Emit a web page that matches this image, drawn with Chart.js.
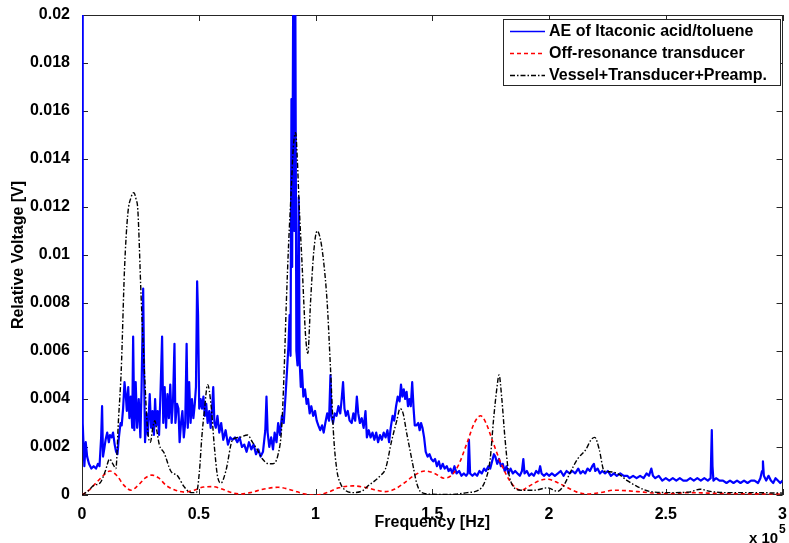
<!DOCTYPE html>
<html>
<head>
<meta charset="utf-8">
<script src="https://cdn.jsdelivr.net/npm/chart.js@4.4.1/dist/chart.umd.min.js"></script>
<style>
  html, body { margin: 0; padding: 0; background: #fff; }
  #c { display: block; }
</style>
</head>
<body>
<canvas id="c" width="789" height="543"></canvas>
<script>
// Frequency in units of 1e5 Hz, relative voltage in V.
const xTickValues = [0, 0.5, 1, 1.5, 2, 2.5, 3];
const yTickValues = [0, 0.002, 0.004, 0.006, 0.008, 0.01, 0.012, 0.014, 0.016, 0.018, 0.02];

const seriesLabels = ['AE of Itaconic acid/toluene', 'Off-resonance transducer', 'Vessel+Transducer+Preamp.'];

// Acoustic emission spectrum of itaconic acid / toluene
const aeSignal = [
  [0.000,0.025],[0.002,0.013],[0.004,0.0030],[0.010,0.0012],[0.016,0.0022],[0.022,0.0016],[0.030,0.0013],
  [0.040,0.0011],[0.050,0.0012],[0.060,0.0011],[0.068,0.0013],[0.075,0.0012],[0.082,0.0024],[0.086,0.0037],
  [0.090,0.0016],[0.095,0.0019],[0.101,0.0023],[0.108,0.0026],[0.115,0.0022],[0.120,0.0025],[0.127,0.0024],
  [0.133,0.0026],[0.140,0.0021],[0.146,0.0018],[0.152,0.0017],[0.158,0.0024],[0.165,0.0030],[0.170,0.0029],
  [0.176,0.0036],[0.182,0.0047],[0.188,0.0041],[0.192,0.0035],[0.198,0.0045],[0.203,0.0032],[0.209,0.0041],
  [0.215,0.0028],[0.219,0.0066],[0.224,0.0027],[0.230,0.0047],[0.236,0.0028],[0.243,0.0040],[0.250,0.0024],
  [0.255,0.0044],[0.262,0.0086],[0.266,0.0050],[0.270,0.0022],[0.276,0.0034],[0.282,0.0025],[0.290,0.0042],
  [0.296,0.0028],[0.302,0.0035],[0.308,0.0025],[0.313,0.0040],[0.318,0.0029],[0.324,0.0035],[0.330,0.0025],
  [0.336,0.0042],[0.343,0.0066],[0.348,0.0030],[0.354,0.0045],[0.360,0.0028],[0.366,0.0042],[0.372,0.0032],
  [0.378,0.0046],[0.384,0.0030],[0.390,0.0040],[0.396,0.0063],[0.400,0.0030],[0.407,0.0038],[0.413,0.0036],
  [0.418,0.0022],[0.424,0.0030],[0.430,0.0035],[0.436,0.0024],[0.442,0.0030],[0.448,0.0063],[0.453,0.0028],
  [0.459,0.0047],[0.465,0.0030],[0.471,0.0040],[0.477,0.0032],[0.483,0.0038],[0.488,0.0045],[0.493,0.0089],
  [0.497,0.0075],[0.502,0.0036],[0.508,0.0040],[0.514,0.0036],[0.520,0.0041],[0.526,0.0033],[0.532,0.0038],
  [0.538,0.0030],[0.545,0.0035],[0.551,0.0028],[0.557,0.0036],[0.562,0.0045],[0.567,0.0030],[0.573,0.0028],
  [0.580,0.0033],[0.588,0.0026],[0.596,0.0030],[0.605,0.0023],[0.615,0.0027],[0.625,0.0021],[0.635,0.0024],
  [0.645,0.0023],[0.655,0.0024],[0.665,0.0022],[0.675,0.0024],[0.685,0.0020],[0.695,0.0021],[0.705,0.0018],
  [0.715,0.0022],[0.725,0.0019],[0.735,0.0021],[0.745,0.0017],[0.755,0.0019],[0.765,0.0016],[0.775,0.0018],
  [0.785,0.0027],[0.790,0.0041],[0.795,0.0026],[0.802,0.0020],[0.810,0.0024],[0.818,0.0019],[0.825,0.0026],
  [0.833,0.0022],[0.840,0.0030],[0.848,0.0025],[0.856,0.0033],[0.864,0.0030],[0.872,0.0042],[0.878,0.0052],
  [0.884,0.0062],[0.889,0.0075],[0.893,0.0058],[0.897,0.0165],[0.900,0.0095],[0.905,0.0225],[0.909,0.0110],
  [0.913,0.0225],[0.918,0.0060],[0.923,0.0054],[0.928,0.0124],[0.932,0.0056],[0.937,0.0045],[0.942,0.0052],
  [0.948,0.0041],[0.955,0.0044],[0.962,0.0038],[0.968,0.0040],[0.975,0.0034],[0.982,0.0037],[0.990,0.0033],
  [0.998,0.0035],[1.005,0.0031],[1.012,0.0029],[1.020,0.0027],[1.028,0.0029],[1.035,0.0026],[1.042,0.0030],
  [1.050,0.0034],[1.058,0.0031],[1.064,0.0050],[1.068,0.0033],[1.075,0.0030],[1.082,0.0034],[1.090,0.0033],
  [1.098,0.0037],[1.106,0.0034],[1.112,0.0040],[1.118,0.0047],[1.124,0.0036],[1.130,0.0033],[1.138,0.0035],
  [1.146,0.0031],[1.155,0.0030],[1.162,0.0034],[1.170,0.0031],[1.177,0.0041],[1.183,0.0034],[1.190,0.0030],
  [1.198,0.0032],[1.206,0.0028],[1.214,0.0035],[1.220,0.0024],[1.228,0.0027],[1.236,0.0024],[1.244,0.0026],
  [1.252,0.0023],[1.260,0.0026],[1.268,0.0022],[1.276,0.0025],[1.284,0.0023],[1.292,0.0026],[1.300,0.0024],
  [1.308,0.0027],[1.315,0.0022],[1.322,0.0028],[1.330,0.0033],[1.337,0.0031],[1.345,0.0037],[1.352,0.0041],
  [1.360,0.0039],[1.366,0.0046],[1.372,0.0041],[1.378,0.0044],[1.384,0.0040],[1.390,0.0043],[1.396,0.0037],
  [1.402,0.0040],[1.408,0.0037],[1.414,0.0047],[1.420,0.0036],[1.425,0.0029],[1.432,0.0029],[1.440,0.0030],
  [1.446,0.0027],[1.452,0.0030],[1.458,0.0028],[1.465,0.0024],[1.472,0.0018],[1.480,0.0016],[1.488,0.0017],
  [1.496,0.0015],[1.504,0.0014],[1.512,0.0015],[1.520,0.0012],[1.528,0.0014],[1.536,0.0011],[1.545,0.0013],
  [1.553,0.0011],[1.562,0.0012],[1.570,0.0010],[1.578,0.0011],[1.586,0.0009],[1.595,0.0012],[1.604,0.0009],
  [1.615,0.0010],[1.625,0.0008],[1.635,0.0009],[1.645,0.0008],[1.652,0.0009],[1.657,0.0023],[1.662,0.0009],
  [1.672,0.0008],[1.682,0.0009],[1.692,0.0008],[1.702,0.0010],[1.712,0.0009],[1.722,0.0011],[1.730,0.0010],
  [1.740,0.0012],[1.748,0.0011],[1.756,0.0014],[1.764,0.0017],[1.770,0.0016],[1.778,0.0013],[1.786,0.0015],
  [1.794,0.0012],[1.802,0.0013],[1.810,0.0010],[1.818,0.0012],[1.826,0.0009],[1.835,0.0011],[1.845,0.0009],
  [1.855,0.0010],[1.865,0.0009],[1.875,0.0008],[1.884,0.0010],[1.890,0.0015],[1.895,0.0009],[1.905,0.0010],
  [1.915,0.0008],[1.925,0.0009],[1.935,0.0008],[1.945,0.0010],[1.955,0.0009],[1.962,0.0012],[1.968,0.0009],
  [1.978,0.0008],[1.990,0.0009],[2.000,0.0008],[2.012,0.0009],[2.025,0.0008],[2.038,0.0009],[2.050,0.0010],
  [2.062,0.0008],[2.075,0.0010],[2.088,0.0009],[2.100,0.0010],[2.112,0.0009],[2.125,0.0011],[2.135,0.0009],
  [2.145,0.0010],[2.155,0.0009],[2.165,0.0011],[2.175,0.0010],[2.185,0.0012],[2.192,0.0013],[2.198,0.0010],
  [2.208,0.0011],[2.218,0.0009],[2.228,0.0010],[2.240,0.0009],[2.252,0.0010],[2.265,0.0008],[2.278,0.0009],
  [2.290,0.0008],[2.305,0.0009],[2.320,0.0008],[2.335,0.0008],[2.345,0.0007],[2.360,0.0008],[2.375,0.0007],
  [2.390,0.0008],[2.405,0.0007],[2.418,0.0009],[2.428,0.0008],[2.438,0.0011],[2.445,0.0008],[2.455,0.0007],
  [2.470,0.0008],[2.485,0.0006],[2.500,0.0007],[2.515,0.0006],[2.530,0.0007],[2.545,0.0006],[2.560,0.0007],
  [2.575,0.0006],[2.590,0.0006],[2.605,0.0007],[2.620,0.0006],[2.635,0.0007],[2.650,0.0006],[2.665,0.0007],
  [2.680,0.0006],[2.692,0.0007],[2.697,0.0027],[2.700,0.0012],[2.704,0.0006],[2.715,0.0007],[2.730,0.0006],
  [2.745,0.0006],[2.760,0.0005],[2.775,0.0006],[2.790,0.0005],[2.805,0.0006],[2.820,0.0005],[2.835,0.0006],
  [2.850,0.0005],[2.865,0.0006],[2.880,0.0006],[2.895,0.0005],[2.905,0.0007],[2.912,0.0010],[2.916,0.0014],
  [2.920,0.0008],[2.930,0.0006],[2.940,0.0008],[2.950,0.0006],[2.960,0.0005],[2.970,0.0007],[2.980,0.0006],
  [2.990,0.0005],[3.000,0.0006]
];

// Off-resonance transducer response
const offResonance = [
  [0.00,0.0000],[0.03,0.0002],[0.06,0.0005],[0.09,0.0008],[0.12,0.0010],[0.15,0.0008],[0.18,0.0004],
  [0.21,0.0002],[0.24,0.0004],[0.27,0.0007],[0.30,0.00083],[0.33,0.0007],[0.36,0.0004],[0.40,0.0002],
  [0.44,0.00012],[0.48,0.0002],[0.52,0.00033],[0.56,0.00035],[0.60,0.00025],[0.64,0.0001],[0.68,0.00004],
  [0.72,0.0001],[0.78,0.00025],[0.84,0.00032],[0.90,0.0002],[0.95,0.00005],[1.00,0.0000],[1.05,0.0001],
  [1.10,0.0003],[1.16,0.00038],[1.22,0.0003],[1.26,0.0002],[1.30,0.00014],[1.34,0.00025],[1.38,0.0005],
  [1.42,0.0008],[1.47,0.0010],[1.51,0.0009],[1.55,0.0007],[1.58,0.0008],[1.61,0.0012],[1.65,0.0022],
  [1.68,0.0030],[1.707,0.0033],[1.73,0.0030],[1.76,0.0022],[1.795,0.0013],[1.838,0.0005],[1.88,0.0002],
  [1.92,0.0004],[1.96,0.0006],[1.994,0.00066],[2.04,0.0005],[2.08,0.0003],[2.12,0.00012],[2.165,0.00004],
  [2.22,0.0001],[2.278,0.0002],[2.33,0.00018],[2.38,0.00014],[2.45,0.00008],[2.52,0.00006],[2.60,0.0001],
  [2.68,0.00008],[2.76,0.00006],[2.85,0.00005],[3.00,0.00004]
];

// Vessel + transducer + preamplifier response
const vesselChain = [
  [0.00,0.0000],[0.03,0.0002],[0.05,0.0004],[0.077,0.0005],[0.10,0.0010],[0.118,0.0015],[0.132,0.0013],
  [0.145,0.0011],[0.156,0.0031],[0.168,0.0052],[0.182,0.0094],[0.196,0.0117],[0.210,0.0124],[0.222,0.0126],
  [0.232,0.0123],[0.239,0.0119],[0.253,0.0083],[0.267,0.0052],[0.281,0.0027],[0.293,0.0022],[0.303,0.0028],
  [0.312,0.0031],[0.320,0.0027],[0.331,0.0021],[0.352,0.00175],[0.380,0.0010],[0.409,0.0008],[0.437,0.00035],
  [0.466,0.0001],[0.490,0.0001],[0.503,0.0010],[0.513,0.0024],[0.524,0.0035],[0.538,0.0046],[0.552,0.0038],
  [0.567,0.0020],[0.580,0.0008],[0.595,0.0005],[0.616,0.0010],[0.645,0.0023],[0.673,0.0024],[0.709,0.0025],
  [0.730,0.0022],[0.750,0.0019],[0.773,0.0015],[0.800,0.0013],[0.815,0.0013],[0.840,0.0017],[0.855,0.0028],
  [0.865,0.0050],[0.875,0.0080],[0.885,0.0105],[0.895,0.0125],[0.905,0.0145],[0.915,0.0151],[0.922,0.0140],
  [0.929,0.0123],[0.943,0.0095],[0.957,0.0067],[0.967,0.0059],[0.979,0.0081],[0.993,0.0102],[1.007,0.0110],
  [1.020,0.0107],[1.035,0.0097],[1.050,0.0080],[1.064,0.0053],[1.078,0.0024],[1.092,0.0010],[1.106,0.0005],
  [1.127,0.0002],[1.156,0.0001],[1.200,0.00017],[1.227,0.0004],[1.255,0.0006],[1.277,0.0008],[1.300,0.0011],
  [1.327,0.0023],[1.348,0.0031],[1.362,0.0036],[1.375,0.0034],[1.390,0.0026],[1.404,0.0019],[1.418,0.0012],
  [1.433,0.0005],[1.454,0.0001],[1.500,0.00003],[1.550,0.00002],[1.600,0.00003],[1.650,0.0001],[1.698,0.0002],
  [1.727,0.0006],[1.748,0.0015],[1.762,0.0031],[1.776,0.0044],[1.786,0.0050],[1.797,0.0041],[1.811,0.0024],
  [1.826,0.0010],[1.847,0.00035],[1.880,0.0002],[1.937,0.0002],[1.994,0.0003],[2.036,0.00015],[2.060,0.00035],
  [2.094,0.0010],[2.122,0.0015],[2.158,0.0019],[2.180,0.0023],[2.196,0.0024],[2.215,0.0019],[2.236,0.0010],
  [2.257,0.00097],[2.293,0.0009],[2.335,0.0006],[2.378,0.00035],[2.435,0.00014],[2.520,0.0001],[2.600,0.00012],
  [2.647,0.00024],[2.690,0.00015],[2.750,0.0001],[2.850,0.0001],[3.000,0.00008]
];

const FONT_FAMILY = '"Liberation Sans", Arial, Helvetica, sans-serif';
const toXY = pts => pts.map(([f, v]) => ({ x: f, y: v }));

// Box around the plot with inward tick marks, the legend and the x-axis multiplier
const framePlugin = {
  id: 'frame',
  beforeDatasetsDraw(chart) {
    const { ctx, chartArea: a, scales } = chart;
    ctx.save();
    ctx.strokeStyle = '#262626';
    ctx.lineWidth = 1;
    ctx.strokeRect(Math.round(a.left) + 0.5, Math.round(a.top) + 0.5,
                   Math.round(a.right - a.left) - 1, Math.round(a.bottom - a.top) - 1);
    const tl = 6;
    ctx.beginPath();
    xTickValues.forEach(v => {
      const px = Math.round(scales.x.getPixelForValue(v)) + 0.5;
      ctx.moveTo(px, a.bottom); ctx.lineTo(px, a.bottom - tl);
      ctx.moveTo(px, a.top); ctx.lineTo(px, a.top + tl);
    });
    yTickValues.forEach(v => {
      const py = Math.round(scales.y.getPixelForValue(v)) + 0.5;
      ctx.moveTo(a.left, py); ctx.lineTo(a.left + tl, py);
      ctx.moveTo(a.right, py); ctx.lineTo(a.right - tl, py);
    });
    ctx.stroke();
    ctx.restore();
  },
  afterDraw(chart) {
    const { ctx } = chart;
    ctx.save();
    // legend
    const bx = 503.5, by = 19.5, bw = 277, bh = 66;
    ctx.fillStyle = '#fff';
    ctx.fillRect(bx, by, bw, bh);
    ctx.strokeStyle = '#262626';
    ctx.lineWidth = 1;
    ctx.strokeRect(bx, by, bw, bh);
    const rows = [31, 53, 75];
    chart.data.datasets.forEach((ds, i) => {
      const y = rows[i] + 0.5;
      ctx.beginPath();
      ctx.strokeStyle = ds.borderColor;
      ctx.lineWidth = ds.legendWidth;
      ctx.setLineDash(ds.borderDash || []);
      ctx.moveTo(510, y); ctx.lineTo(545, y);
      ctx.stroke();
      ctx.setLineDash([]);
      ctx.fillStyle = '#000';
      ctx.font = 'bold 16px ' + FONT_FAMILY;
      ctx.textBaseline = 'middle';
      ctx.textAlign = 'left';
      ctx.fillText(ds.label, 549, rows[i] + 1);
    });
    // x-axis multiplier
    ctx.fillStyle = '#000';
    ctx.textBaseline = 'alphabetic';
    ctx.textAlign = 'left';
    ctx.font = 'bold 15px ' + FONT_FAMILY;
    ctx.fillText('x 10', 749, 543);
    ctx.font = 'bold 12px ' + FONT_FAMILY;
    ctx.fillText('5', 779, 533);
    ctx.restore();
  }
};

new Chart(document.getElementById('c'), {
  type: 'line',
  data: {
    datasets: [
      { label: seriesLabels[0], data: toXY(aeSignal), borderColor: '#0000ff', borderWidth: 2.2,
        legendWidth: 1.5, order: 2, borderJoinStyle: 'round' },
      { label: seriesLabels[1], data: toXY(offResonance), borderColor: '#ff0000', borderWidth: 1.6,
        borderDash: [4, 3], legendWidth: 1.5, order: 1, cubicInterpolationMode: 'monotone', tension: 0.4 },
      { label: seriesLabels[2], data: toXY(vesselChain), borderColor: '#000000', borderWidth: 1.4,
        borderDash: [5, 2, 1.5, 2], legendWidth: 1.5, order: 0, cubicInterpolationMode: 'monotone', tension: 0.4 }
    ]
  },
  options: {
    responsive: false,
    animation: false,
    layout: { padding: { top: 15, right: 3, left: 0, bottom: 0 } },
    elements: { point: { radius: 0, hoverRadius: 0 }, line: { tension: 0, fill: false } },
    plugins: { legend: { display: false }, tooltip: { enabled: false } },
    scales: {
      x: {
        type: 'linear', min: 0, max: 3,
        afterBuildTicks: s => { s.ticks = xTickValues.map(v => ({ value: v })); },
        afterFit: s => { s.height = 48; },
        grid: { display: false }, border: { display: false },
        ticks: { color: '#000', font: { family: FONT_FAMILY, size: 16, weight: 'bold' }, padding: 2,
                 maxRotation: 0, callback: v => String(v) },
        title: { display: true, text: 'Frequency [Hz]', color: '#000',
                 font: { family: FONT_FAMILY, size: 16, weight: 'bold' }, padding: { top: 0, bottom: 11 } }
      },
      y: {
        type: 'linear', min: 0, max: 0.02,
        afterBuildTicks: s => { s.ticks = yTickValues.map(v => ({ value: v })); },
        afterFit: s => { s.width = 82; },
        grid: { display: false }, border: { display: false },
        ticks: { color: '#000', font: { family: FONT_FAMILY, size: 16, weight: 'bold' }, padding: 4,
                 callback: v => String(+Number(v).toFixed(3)) },
        title: { display: true, text: 'Relative Voltage [V]', color: '#000',
                 font: { family: FONT_FAMILY, size: 16, weight: 'bold' }, padding: { top: 9, bottom: 0 } }
      }
    }
  },
  plugins: [framePlugin]
});
</script>
</body>
</html>
